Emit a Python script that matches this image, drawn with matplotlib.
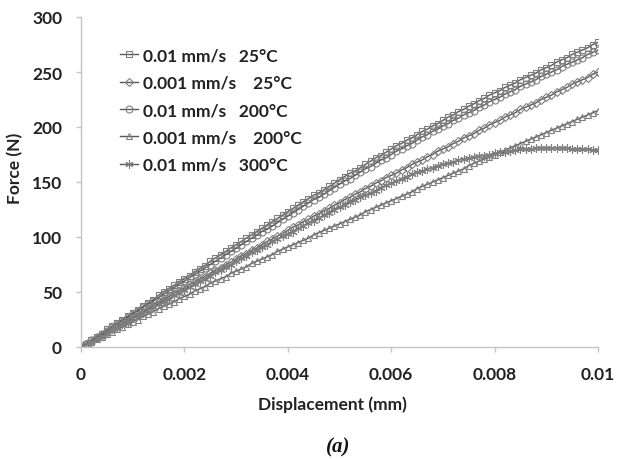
import matplotlib
matplotlib.use("Agg")
import matplotlib.pyplot as plt

# Displacement (mm), step 0.0001
displacement = [round(i * 0.0001, 4) for i in range(101)]

f_001_25 = [0,3,6,9,12,16,19,22,25,28,31,
            34,37,40,43,47,50,53,56,59,62,
            65,68,71,74,78,81,84,87,90,93,
            96,99,102,105,108,111,114,117,120,123,
            126,129,132,135,138,140,143,146,149,152,
            155,158,160,163,166,169,172,174,177,180,
            183,185,188,190,193,196,198,201,203,206,
            209,211,214,216,219,221,224,226,229,231,
            233,236,238,240,243,245,247,249,252,254,
            256,259,261,263,266,268,270,272,275,277]

f_0001_25 = [0,3,5,8,11,14,16,19,22,24,27,
             30,32,35,38,41,43,46,49,51,54,
             57,59,62,64,67,70,72,75,77,80,
             83,85,88,90,93,96,98,101,103,106,
             109,111,114,116,119,121,124,126,129,131,
             134,136,139,141,144,146,149,151,154,156,
             158,161,163,166,168,170,173,175,178,180,
             182,185,187,190,192,194,197,199,202,204,
             206,209,211,213,216,218,220,222,225,227,
             229,232,234,236,239,241,243,245,248,250]

f_001_200 = [0,3,6,9,12,15,18,21,24,27,30,
             33,36,39,42,45,48,51,54,57,60,
             63,66,69,72,75,78,81,84,87,90,
             93,96,99,102,105,107,110,113,116,119,
             122,125,128,131,134,136,139,142,145,148,
             151,153,156,159,162,164,167,170,172,175,
             178,180,183,185,188,191,193,196,198,201,
             203,206,208,211,213,215,218,220,223,225,
             227,230,232,234,237,239,241,243,246,248,
             250,252,255,257,259,261,263,266,268,270]

f_0001_200 = [0,2,5,7,9,12,14,16,18,21,23,
              25,28,30,32,35,37,39,41,44,46,
              48,51,53,55,58,60,62,64,67,69,
              71,73,76,78,80,82,84,87,89,91,
              93,95,97,99,102,104,106,108,110,112,
              114,116,118,120,123,125,127,129,131,133,
              135,137,139,141,144,146,148,150,152,154,
              156,158,160,162,165,167,169,171,173,175,
              177,179,181,183,185,187,189,191,193,195,
              197,199,201,203,205,207,209,211,213,215]

f_001_300 = [0,3,5,8,10,13,16,18,21,23,26,
             29,31,34,36,39,42,44,47,49,52,
             55,57,60,62,65,68,70,73,75,78,
             81,83,86,88,91,93,96,98,101,103,
             105,108,110,113,115,117,120,122,125,127,
             129,132,134,136,138,140,142,145,147,149,
             151,153,155,157,159,160,162,163,165,166,
             167,168,170,171,172,173,174,174,175,176,
             177,177,178,179,180,180,180,181,181,181,
             181,181,181,181,180,180,180,180,179,179]

labels = ["0.01 mm/s   25°C", "0.001 mm/s    25°C", "0.01 mm/s   200°C",
          "0.001 mm/s    200°C", "0.01 mm/s   300°C"]
series = [f_001_25, f_0001_25, f_001_200, f_0001_200, f_001_300]
markers = ["s", "D", "o", "^", (6, 2, 0)]
msizes = [5.0, 4.5, 5.0, 5.0, 6.0]

xticks = [0, 0.002, 0.004, 0.006, 0.008, 0.01]
xticklabels = ["0", "0.002", "0.004", "0.006", "0.008", "0.01"]
yticks = [0, 50, 100, 150, 200, 250, 300]

plt.rcParams['font.family'] = ['Lato', 'DejaVu Sans']

fig = plt.figure(figsize=(6.18, 4.60), dpi=100)
ax = fig.add_axes([81 / 618, 1 - 348 / 460, 517 / 618, 330 / 460])

line_c = "#5a5a5a"
mark_c = "#7f7f7f"
for y, lab, m, ms in zip(series, labels, markers, msizes):
    ax.plot(displacement, y, color=line_c, lw=1.0, marker=m, markersize=ms,
            markerfacecolor="none", markeredgecolor=mark_c, markeredgewidth=0.8, label=lab)

ax.set_xlim(0, 0.01)
ax.set_ylim(0, 300)
ax.set_xticks(xticks)
ax.set_xticklabels(xticklabels)
ax.set_yticks(yticks)

for s in ["top", "right"]:
    ax.spines[s].set_visible(False)
for s in ["left", "bottom"]:
    ax.spines[s].set_color("#c4c4c4")
    ax.spines[s].set_linewidth(1.0)
ax.tick_params(axis="both", colors="#c4c4c4", length=3.6, width=1.0, labelcolor="#222222",
               labelsize=12.5)
for t in ax.get_xticklabels() + ax.get_yticklabels():
    t.set_fontweight("bold")
ax.tick_params(axis="x", pad=10)
ax.tick_params(axis="y", pad=10)

ax.set_xlabel("Displacement (mm)", fontsize=12.5, fontweight="bold", color="#222222",
              va="center")
ax.xaxis.set_label_coords(0.487, -0.173)
ax.set_ylabel("Force (N)", fontsize=12.5, fontweight="bold", color="#222222", va="center")
ax.yaxis.set_label_coords(-0.128, 0.545)

leg = ax.legend(loc="upper left", bbox_to_anchor=(0.046, 0.955), frameon=False,
                handlelength=1.0, handletextpad=0.3, labelspacing=0.65,
                prop={"family": "Lato", "weight": "bold", "size": 12.5})
for t in leg.get_texts():
    t.set_color("#222222")

fig.text(0.547, 1 - 447 / 460, "(a)", family="Liberation Serif", style="italic",
         weight="bold", fontsize=15, ha="center", va="center", color="#111111")

fig.savefig("out.png", dpi=100)
